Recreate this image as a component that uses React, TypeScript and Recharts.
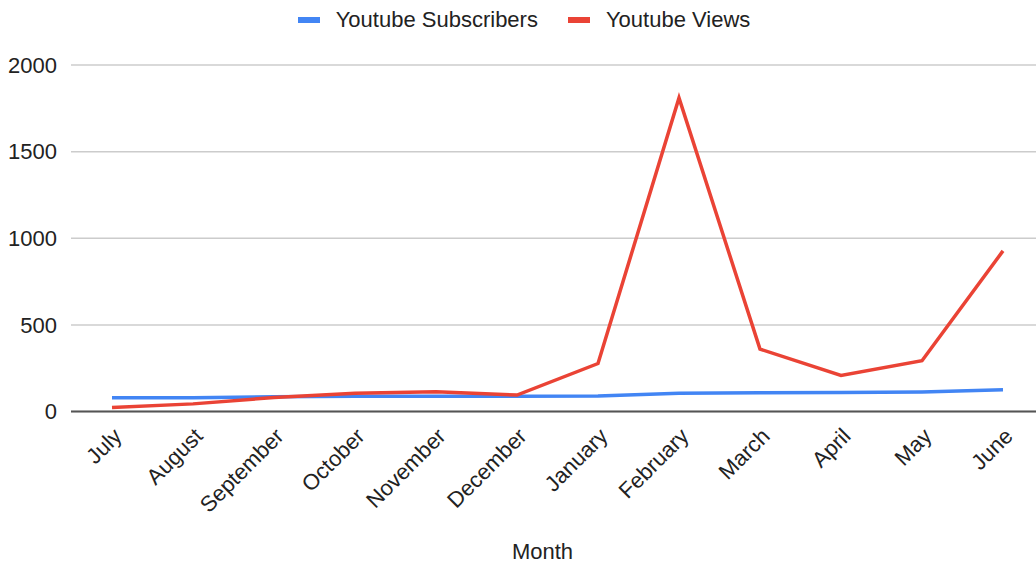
import { LineChart, Line, XAxis, YAxis, CartesianGrid, Legend } from "recharts";

const months = [
  "July",
  "August",
  "September",
  "October",
  "November",
  "December",
  "January",
  "February",
  "March",
  "April",
  "May",
  "June",
];

const subscribers = [80, 80, 85, 88, 88, 88, 90, 105, 108, 110, 113, 125];
const views = [23, 44, 81, 106, 114, 95, 277, 1810, 360, 208, 293, 927];

const yTicks = [0, 500, 1000, 1500, 2000];

const seriesInfo = [
  { key: "subscribers", name: "Youtube Subscribers", color: "#4285f4" },
  { key: "views", name: "Youtube Views", color: "#ea4335" },
];

const data = months.map((m, i) => ({
  month: m,
  subscribers: subscribers[i],
  views: views[i],
}));

const FONT = "'Liberation Sans', Arial, sans-serif";

function LegendBox() {
  return (
    <div
      style={{
        height: 65,
        display: "flex",
        justifyContent: "center",
        alignItems: "flex-start",
        gap: 30,
        paddingTop: 7,
        paddingLeft: 12,
        boxSizing: "border-box",
        fontFamily: FONT,
        fontSize: 22,
        color: "#222",
      }}
    >
      {seriesInfo.map((s) => (
        <div key={s.key} style={{ display: "flex", alignItems: "center" }}>
          <span
            style={{
              display: "inline-block",
              width: 22,
              height: 6,
              background: s.color,
              marginRight: 16,
            }}
          />
          <span>{s.name}</span>
        </div>
      ))}
    </div>
  );
}

export default function App() {
  return (
    <div style={{ position: "absolute", left: 0, top: 0, background: "#fff" }}>
      <LineChart
        width={1036}
        height={563}
        data={data}
        margin={{ top: 0, right: 0, bottom: 0, left: 0 }}
      >
        <Legend verticalAlign="top" align="center" content={<LegendBox />} height={65} />
        <CartesianGrid vertical={false} stroke="#cccccc" strokeWidth={1.5} />
        <XAxis
          dataKey="month"
          height={151.5}
          padding={{ left: 41, right: 33 }}
          interval={0}
          angle={-45}
          textAnchor="end"
          tickLine={false}
          axisLine={{ stroke: "#555", strokeWidth: 2 }}
          tickMargin={9}
          tick={{ fill: "#222", fontSize: 22, fontFamily: FONT }}
          label={{
            value: "Month",
            position: "insideBottom",
            offset: 4,
            dx: -11,
            fill: "#222",
            fontSize: 22,
            fontFamily: FONT,
          }}
        />
        <YAxis
          width={71}
          domain={[0, 2000]}
          ticks={yTicks}
          axisLine={false}
          tickLine={false}
          tickSize={6}
          tickMargin={8}
          tick={{ fill: "#222", fontSize: 22, fontFamily: FONT }}
        />
        {seriesInfo.map((s) => (
          <Line
            key={s.key}
            type="linear"
            dataKey={s.key}
            name={s.name}
            stroke={s.color}
            strokeWidth={3.5}
            dot={false}
            isAnimationActive={false}
          />
        ))}
      </LineChart>
    </div>
  );
}
